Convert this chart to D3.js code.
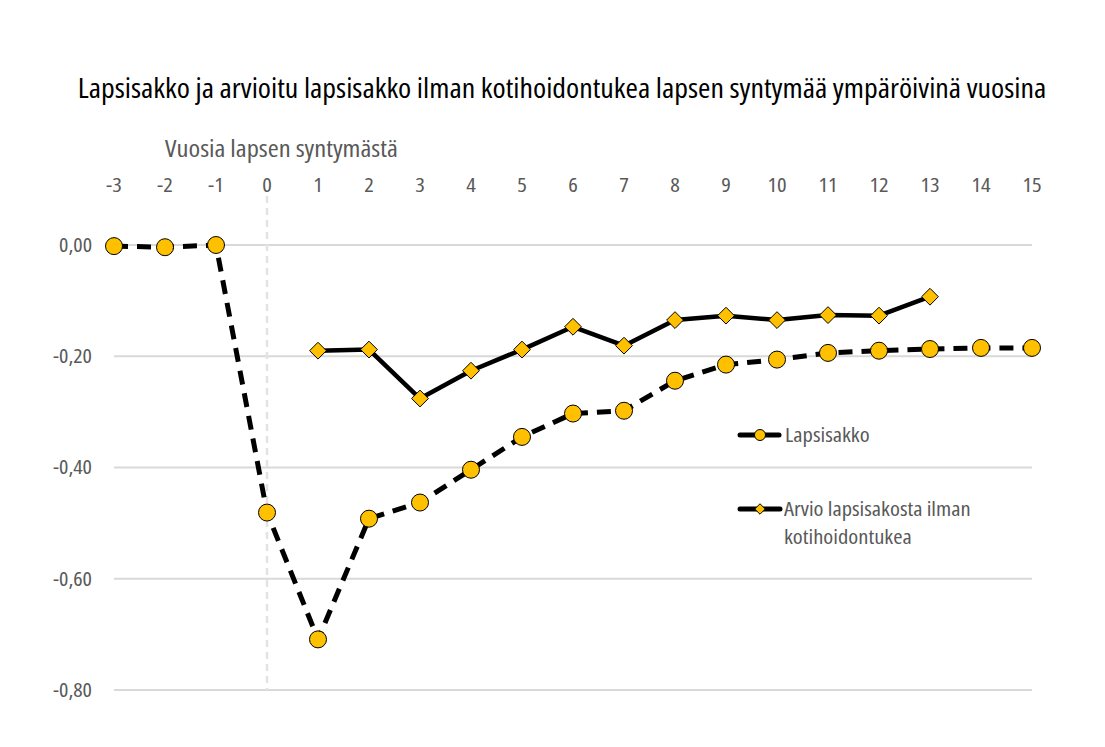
<!DOCTYPE html>
<html><head><meta charset="utf-8">
<script src="https://cdn.jsdelivr.net/npm/d3@7"></script>
<style>
body{margin:0;background:#fff;}
text{font-family:"Open Sans","Noto Sans",sans-serif;font-stretch:condensed;font-weight:400;}
</style></head><body>
<svg id="c" width="1105" height="747"></svg>
<script>
const years = [-3,-2,-1,0,1,2,3,4,5,6,7,8,9,10,11,12,13,14,15];
const lapsisakko = [-0.002,-0.004,0.000,-0.481,-0.709,-0.492,-0.463,-0.404,-0.345,-0.303,-0.298,-0.244,-0.215,-0.206,-0.194,-0.190,-0.187,-0.185,-0.185];
const arvioYears = [1,2,3,4,5,6,7,8,9,10,11,12,13];
const arvio = [-0.190,-0.188,-0.276,-0.226,-0.188,-0.147,-0.181,-0.135,-0.127,-0.135,-0.126,-0.127,-0.093];
const yTicks = [0,-0.2,-0.4,-0.6,-0.8];
const title = "Lapsisakko ja arvioitu lapsisakko ilman kotihoidontukea lapsen syntymää ympäröivinä vuosina";
const xTitle = "Vuosia lapsen syntymästä";
const legend1 = "Lapsisakko";
const legend2 = ["Arvio lapsisakosta ilman","kotihoidontukea"];

const SX = 1.13;
const svg = d3.select("#c");
const x = d3.scaleLinear().domain([-3,15]).range([114,1032]);
const y = d3.scaleLinear().domain([0,-0.8]).range([245,690]);
const fmt = v => d3.format(".2f")(v).replace(".",",").replace("−","-");

function txt(parent, tx, ty, s, size, fill, anchor, sx){
  return parent.append("text").attr("transform",`translate(${tx},${ty}) scale(${sx||SX},1)`)
    .attr("text-anchor",anchor||"start").attr("font-size",size).attr("fill",fill).text(s);
}

svg.append("g").selectAll("line").data(yTicks).join("line")
  .attr("x1",x(-3)).attr("x2",x(15)).attr("y1",d=>y(d)).attr("y2",d=>y(d))
  .attr("stroke","#d9d9d9").attr("stroke-width",2);
svg.append("g").selectAll("text").data(yTicks).join("text")
  .attr("transform",d=>`translate(92,${y(d)}) scale(${SX},1)`).attr("dy","0.35em").attr("text-anchor","end")
  .attr("font-size",19.5).attr("fill","#595959").text(d=>fmt(d));
svg.append("g").selectAll("text").data(years).join("text")
  .attr("transform",d=>`translate(${x(d)},192) scale(${SX},1)`).attr("text-anchor","middle")
  .attr("font-size",20).attr("fill","#595959").text(d=>d);
svg.append("line").attr("x1",x(0)).attr("x2",x(0)).attr("y1",196).attr("y2",690)
  .attr("stroke","#e3e3e3").attr("stroke-width",2.5).attr("stroke-dasharray","7,5");

txt(svg, 562, 98, title, 27.5, "#000", "middle", 1.09);
txt(svg, 165, 157, xTitle, 23.5, "#595959", "start");

const line = d3.line().x(d=>x(d[0])).y(d=>y(d[1]));
const lapsData = years.map((v,i)=>[v,lapsisakko[i]]);
const arvioData = arvioYears.map((v,i)=>[v,arvio[i]]);

svg.append("path").datum(lapsData).attr("d",line).attr("fill","none")
  .attr("stroke","#000").attr("stroke-width",5).attr("stroke-dasharray","14,9");
svg.append("path").datum(arvioData).attr("d",line).attr("fill","none")
  .attr("stroke","#000").attr("stroke-width",4.5).attr("stroke-linejoin","round");

svg.append("g").selectAll("circle").data(lapsData).join("circle")
  .attr("cx",d=>x(d[0])).attr("cy",d=>y(d[1])).attr("r",8.5)
  .attr("fill","#FFC000").attr("stroke","#000").attr("stroke-width",1);
const diamond = d3.symbol().type(d3.symbolDiamond2).size(180);
svg.append("g").selectAll("path").data(arvioData).join("path")
  .attr("transform",d=>`translate(${x(d[0])},${y(d[1])})`).attr("d",diamond)
  .attr("fill","#FFC000").attr("stroke","#000").attr("stroke-width",1);

const lg = svg.append("g");
lg.append("line").attr("x1",740).attr("x2",779).attr("y1",435).attr("y2",435)
  .attr("stroke","#000").attr("stroke-width",5).attr("stroke-linecap","round");
lg.append("circle").attr("cx",760).attr("cy",435).attr("r",5.5)
  .attr("fill","#FFC000").attr("stroke","#000").attr("stroke-width",1);
txt(lg, 785, 442, legend1, 20, "#595959");
lg.append("line").attr("x1",740).attr("x2",780).attr("y1",509).attr("y2",509)
  .attr("stroke","#000").attr("stroke-width",5).attr("stroke-linecap","round");
lg.append("path").attr("transform","translate(760,509)")
  .attr("d",d3.symbol().type(d3.symbolDiamond2).size(70)())
  .attr("fill","#FFC000").attr("stroke","#000").attr("stroke-width",1);
txt(lg, 784, 516, legend2[0], 20, "#595959");
txt(lg, 784, 544, legend2[1], 20, "#595959");
</script></body></html>
